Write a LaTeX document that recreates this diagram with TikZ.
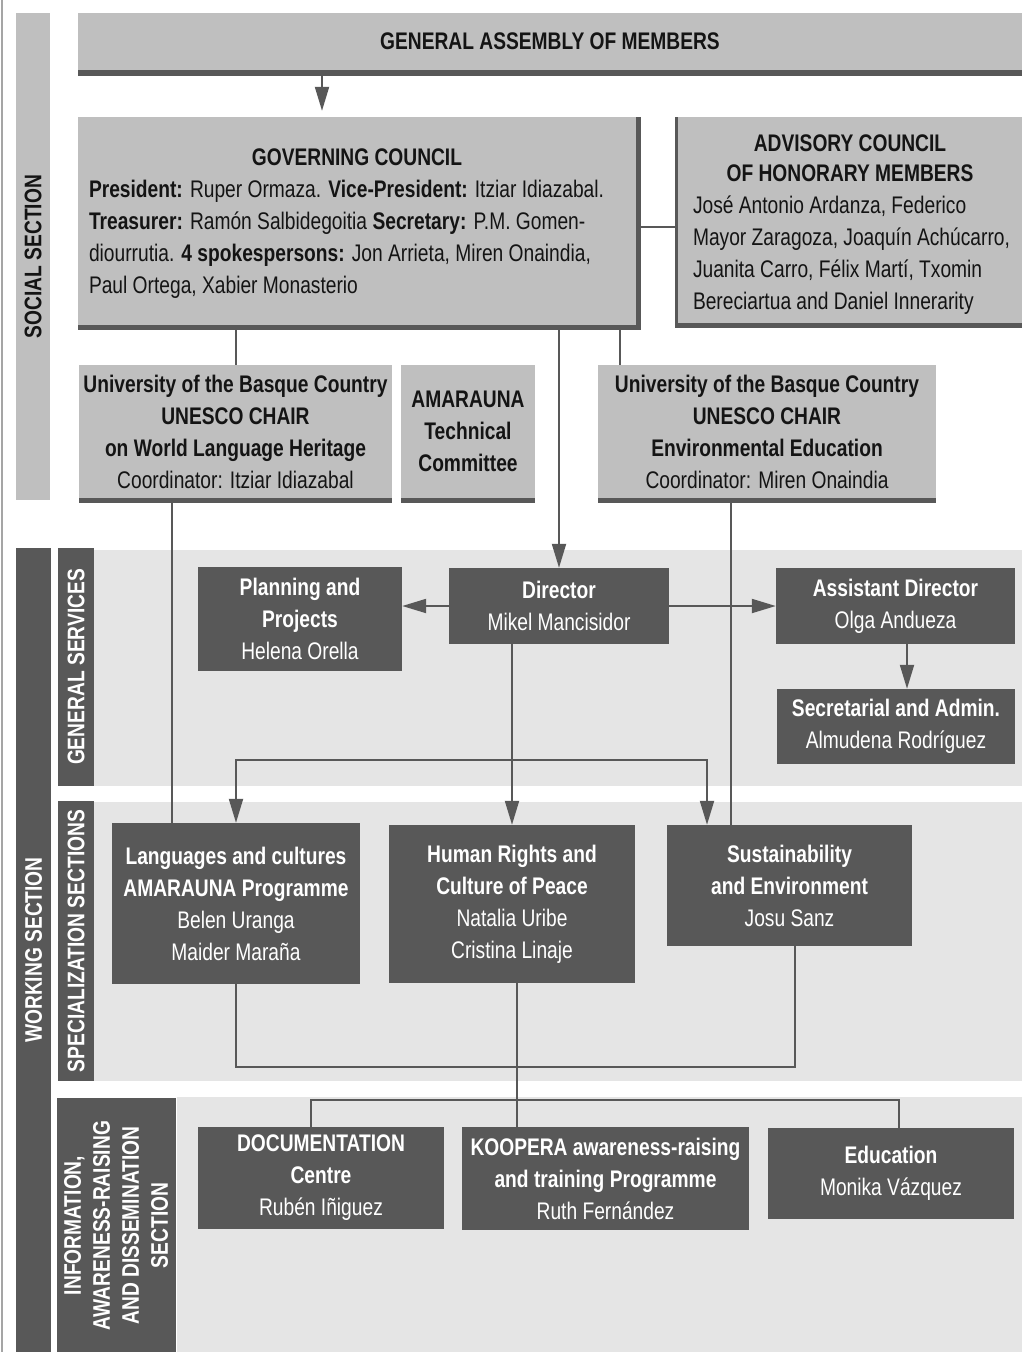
\documentclass[tikz,border=0pt]{standalone}
\usepackage{fontspec}
\setmainfont{Liberation Sans}[FakeStretch=0.8]
\usetikzlibrary{arrows.meta,calc}
\definecolor{boxlight}{RGB}{191,191,191}
\definecolor{boxdark}{RGB}{88,88,88}
\definecolor{bandgray}{RGB}{229,229,229}
\definecolor{edgegray}{RGB}{165,165,165}
\definecolor{ink}{RGB}{20,20,20}
\tikzset{
  txt/.style={font=\fontsize{24}{32}\selectfont},
  lbox/.style={txt, fill=boxlight, text=ink, align=center, inner sep=0pt},
  dbox/.style={txt, fill=boxdark, text=white, align=center, inner sep=0pt},
  lbar/.style={fill=boxlight, text=ink, rotate=90, align=center, inner sep=0pt, font=\bfseries\fontsize{24}{29}\selectfont},
  dbar/.style={fill=boxdark, text=white, rotate=90, align=center, inner sep=0pt, font=\bfseries\fontsize{24}{29}\selectfont},
  shade/.style={fill=boxdark},
  bandbg/.style={fill=bandgray},
  conn/.style={draw=boxdark, line width=2pt},
  arr/.style={conn, -{Triangle[length=24pt,width=14pt]}},
}
\begin{document}
\begin{tikzpicture}[x=1pt,y=-1pt]
\useasboundingbox (0,0) rectangle (1022,1352);
\fill[white] (0,0) rectangle (1022,1352);
\draw[edgegray, line width=2pt] (2,0) -- (2,1352);
% bands
\fill[bandbg] (94,550) rectangle (1022,786);
\fill[bandbg] (94,802) rectangle (1022,1081);
\fill[bandbg] (177,1097) rectangle (1022,1352);
% section bars
\node[lbar, minimum width=487, minimum height=34] (social) at (33,256.5) {SOCIAL SECTION};
\node[dbar, minimum width=804, minimum height=35] (working) at (33.5,950) {WORKING SECTION};
\node[dbar, minimum width=238, minimum height=36] (gensrv) at (76,667) {GENERAL SERVICES};
\node[dbar, minimum width=280, minimum height=36] (spec) at (76,941) {SPECIALIZATION SECTIONS};
\node[dbar, minimum width=255, minimum height=119] (info) at (116,1225.5) {INFORMATION,\\AWARENESS-RAISING\\AND DISSEMINATION\\SECTION};
% assembly
\fill[shade] (78,13) rectangle (1022,76);
\node[lbox, minimum width=944, minimum height=57] (asm) at (550,41.5) {\textbf{GENERAL ASSEMBLY OF MEMBERS}};
% governing council
\fill[shade] (78,117) rectangle (641,330);
\node[lbox, minimum width=558, minimum height=208, text width=536, align=flush left] (gc) at (357,221)
 {\makebox[536pt][c]{\rule{0pt}{22pt}\textbf{GOVERNING COUNCIL}}\\
  \textbf{President:} Ruper Ormaza. \textbf{Vice-President:} Itziar Idiazabal.\\
  \textbf{Treasurer:} Ramón Salbidegoitia \textbf{Secretary:} P.M. Gomen-\\
  diourrutia. \textbf{4 spokespersons:} Jon Arrieta, Miren Onaindia,\\
  Paul Ortega, Xabier Monasterio};
% advisory council
\fill[shade] (675,117) rectangle (1022,328);
\node[lbox, minimum width=344, minimum height=206, text width=336, align=flush left] (adv) at (850,220)
 {\makebox[336pt][c]{\rule{0pt}{25pt}\textbf{ADVISORY COUNCIL}}\\[-2pt]
  \makebox[336pt][c]{\textbf{OF HONORARY MEMBERS}}\\
  \hspace*{11pt}José Antonio Ardanza, Federico\\
  \hspace*{11pt}Mayor Zaragoza, Joaquín Achúcarro,\\
  \hspace*{11pt}Juanita Carro, Félix Martí, Txomin\\
  \hspace*{11pt}Bereciartua and Daniel Innerarity};
% chairs
\fill[shade] (79,365) rectangle (392,503);
\node[lbox, minimum width=313, minimum height=133] (ch1) at (235.5,431.5)
 {\textbf{University of the Basque Country}\\\textbf{UNESCO CHAIR}\\\textbf{on World Language Heritage}\\Coordinator: Itziar Idiazabal};
\fill[shade] (401,365) rectangle (535,503);
\node[lbox, minimum width=134, minimum height=133] (tech) at (468,431.5)
 {\textbf{AMARAUNA}\\\textbf{Technical}\\\textbf{Committee}};
\fill[shade] (598,365) rectangle (936,503);
\node[lbox, minimum width=338, minimum height=133] (ch2) at (767,431.5)
 {\textbf{University of the Basque Country}\\\textbf{UNESCO CHAIR}\\\textbf{Environmental Education}\\Coordinator: Miren Onaindia};
% dark boxes
\node[dbox, minimum width=204, minimum height=104] (plan) at (300,619) {\textbf{Planning and}\\\textbf{Projects}\\Helena Orella};
\node[dbox, minimum width=220, minimum height=76] (dir) at (559,606) {\textbf{Director}\\Mikel Mancisidor};
\node[dbox, minimum width=239, minimum height=76] (asst) at (895.5,606) {\textbf{Assistant Director}\\Olga Andueza};
\node[dbox, minimum width=238, minimum height=75] (sec) at (896,726.5) {\textbf{Secretarial and Admin.}\\Almudena Rodríguez};
\node[dbox, minimum width=248, minimum height=161] (lang) at (236,903.5) {\textbf{Languages and cultures}\\\textbf{AMARAUNA Programme}\\Belen Uranga\\Maider Maraña};
\node[dbox, minimum width=246, minimum height=158] (hr) at (512,904) {\textbf{Human Rights and}\\\textbf{Culture of Peace}\\Natalia Uribe\\Cristina Linaje};
\node[dbox, minimum width=245, minimum height=121] (sust) at (789.5,885.5) {\textbf{Sustainability}\\\textbf{and Environment}\\Josu Sanz};
\node[dbox, minimum width=246, minimum height=102] (doc) at (321,1178) {\textbf{DOCUMENTATION}\\\textbf{Centre}\\Rubén Iñiguez};
\node[dbox, minimum width=287, minimum height=103] (koop) at (605.5,1178.5) {\textbf{KOOPERA awareness-raising}\\\textbf{and training Programme}\\Ruth Fernández};
\node[dbox, minimum width=246, minimum height=91] (edu) at (891,1173.5) {\textbf{Education}\\Monika Vázquez};
% helper coordinates
\coordinate (xA) at (322,0);
\coordinate (yG) at (0,227);
\coordinate (xC2) at (620,0);
\coordinate (xL) at (172,0);
\coordinate (xS) at (731,0);
\coordinate (xSec) at (907,0);
\coordinate (yBr) at (0,760);
\coordinate (xSu) at (707,0);
\coordinate (yLo) at (0,1067);
\coordinate (xSb) at (795,0);
\coordinate (xH) at (517,0);
\coordinate (yBus) at (0,1100);
\coordinate (xD) at (311,0);
\coordinate (xE) at (899,0);
% connectors
\draw[arr, shorten >=6pt] (asm.south -| xA) -- (gc.north -| xA);
\draw[conn] (gc.east |- yG) -- (adv.west |- yG);
\draw[conn] (gc.south -| ch1.north) -- (ch1.north);
\draw[conn] (gc.south -| xC2) -- (ch2.north -| xC2);
\draw[arr] (gc.south -| dir.north) -- (dir.north);
\draw[conn] (ch1.south -| xL) -- (lang.north -| xL);
\draw[conn] (ch2.south -| xS) -- (sust.north -| xS);
\draw[arr] (dir.west) -- (plan.east |- dir.west);
\draw[arr] (dir.east) -- (asst.west);
\draw[arr] (asst.south -| xSec) -- (sec.north -| xSec);
\draw[arr] (dir.south -| hr.north) -- (hr.north);
\draw[arr] (hr.north |- yBr) -| (lang.north);
\draw[arr] (hr.north |- yBr) -| (sust.north -| xSu);
\draw[conn] (lang.south) |- (yLo -| xSb) -- (sust.south -| xSb);
\draw[conn] (hr.south -| xH) -- (koop.north -| xH);
\draw[conn] (doc.north -| xD) |- (yBus -| xE) -- (edu.north -| xE);
\end{tikzpicture}
\end{document}
